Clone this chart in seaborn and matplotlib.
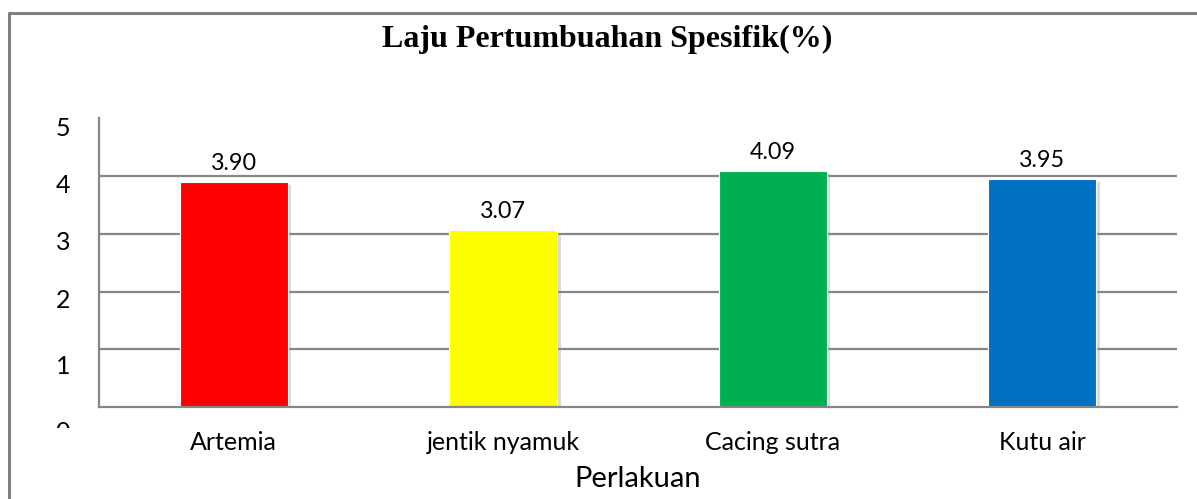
import matplotlib
matplotlib.use("Agg")
import matplotlib.pyplot as plt
import matplotlib.patheffects as pe
from matplotlib.lines import Line2D
from matplotlib.transforms import offset_copy, Bbox
import seaborn as sns
import pandas as pd

categories = ["Artemia", "jentik nyamuk", "Cacing sutra", "Kutu air"]
values = [3.90, 3.07, 4.09, 3.95]
labels = ["3.90", "3.07", "4.09", "3.95"]
colors = ["#FF0000", "#FFFF00", "#00B050", "#0070C0"]
yticks = [0, 1, 2, 3, 4, 5]
title = "Laju Pertumbuahan Spesifik(%)"
xlabel = "Perlakuan"

sns.set_theme(style="white")
plt.rcParams["font.family"] = ["Lato", "DejaVu Sans"]
plt.rcParams["text.color"] = "black"

W, H = 1197, 499
fig = plt.figure(figsize=(W / 100, H / 100), dpi=100)
ax = fig.add_axes([99 / W, 1 - 407 / H, (1177 - 99) / W, (407 - 118.3) / H])

df = pd.DataFrame({"cat": categories, "val": values})
sns.barplot(data=df, x="cat", y="val", hue="cat", palette=colors, width=0.4,
            legend=False, ax=ax, saturation=1, edgecolor="white", linewidth=0.8)

for p in ax.patches:
    p.set_path_effects([pe.SimplePatchShadow(offset=(2.5, -2), shadow_rgbFace="#999999", alpha=0.35),
                        pe.Normal()])

ax.set_ylim(0, 5)
ax.set_xlim(-0.5, 3.5)
ax.set_yticks(yticks)
ax.set_yticklabels([])
ax.yaxis.grid(True, color="#868686", linewidth=1.6)
ax.set_axisbelow(True)
gl = ax.get_ygridlines()
gl[-1].set_visible(False)
gl[0].set_visible(False)

for s in ["top", "right"]:
    ax.spines[s].set_visible(False)
for s in ["left", "bottom"]:
    ax.spines[s].set_color("#868686")
    ax.spines[s].set_linewidth(1.6)

ax.tick_params(axis="both", length=0)
ax.set_xticks(range(len(categories)))
ax.set_xticklabels(categories, fontsize=18, color="black")
ax.tick_params(axis="x", pad=17)
ax.set_xlabel(xlabel, fontsize=21, color="black", labelpad=9)
ax.set_ylabel("")

# y tick labels (rendered slightly below their gridlines, like the original)
offsets_px = [25, 17, 9, 9, 9, 10]
clip_rect = Bbox.from_extents(0, H - 428, W, H)
for v, off in zip(yticks, offsets_px):
    tr = offset_copy(ax.get_yaxis_transform(), fig=fig, x=-29, y=-off, units="dots")
    t = ax.text(0, v, str(v), transform=tr, ha="right", va="center", fontsize=18,
                color="black", clip_on=False)
    if v == 0:
        t.set_clip_box(clip_rect)
        t.set_clip_on(True)

for i, (v, lab) in enumerate(zip(values, labels)):
    ax.annotate(lab, (i, v), xytext=(0, 8), textcoords="offset pixels",
                ha="center", va="bottom", fontsize=16.8, color="black")

fig.text(607 / W, 1 - 39 / H, title, ha="center", va="center", color="black",
         fontsize=23, fontweight="bold", family=["Liberation Serif", "DejaVu Serif"])

fig.add_artist(Line2D([9 / W, 1], [1 - 12.5 / H, 1 - 12.5 / H], transform=fig.transFigure,
                      color="#808080", linewidth=2.2))
fig.add_artist(Line2D([9 / W, 9 / W], [0, 1 - 12.5 / H], transform=fig.transFigure,
                      color="#808080", linewidth=2.2))

fig.savefig("out.png", dpi=100, facecolor="white")
